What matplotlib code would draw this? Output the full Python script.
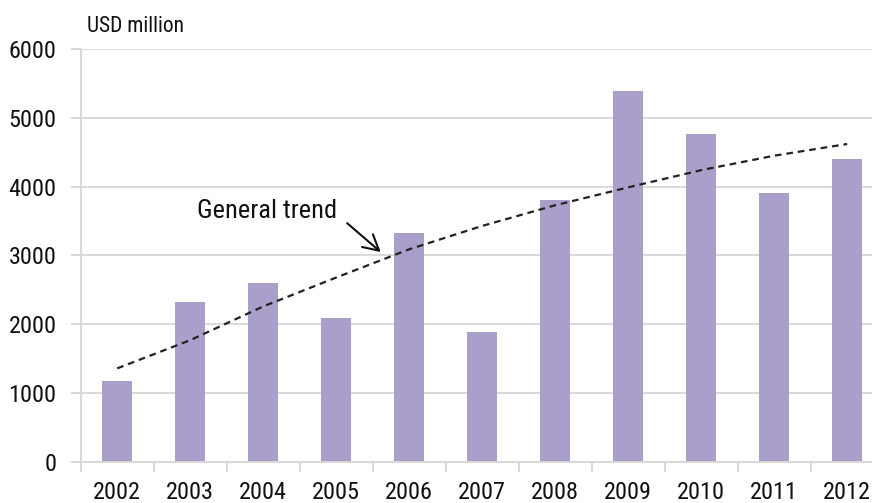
import matplotlib
matplotlib.use("Agg")
import matplotlib.pyplot as plt

years = ["2002", "2003", "2004", "2005", "2006", "2007",
         "2008", "2009", "2010", "2011", "2012"]
values = [1170, 2320, 2600, 2090, 3320, 1890, 3800, 5390, 4760, 3910, 4400]
trend = [1360, 1770, 2260, 2680, 3090, 3430, 3730, 3990, 4240, 4450, 4620]

plt.rcParams["font.family"] = ["Roboto Condensed", "DejaVu Sans"]

bar_color = "#a99fca"
grid_color = "#d9d9d9"
text_color = "#111111"

fig = plt.figure(figsize=(8.72, 5.03), dpi=100)
ax = fig.add_axes([80.7 / 872, 41 / 503, 803 / 872, 413 / 503])

x = list(range(len(years)))
ax.bar(x, values, width=0.41, color=bar_color, zorder=2)
ax.plot(x, trend, color="#222222", lw=1.6, ls=(0, (3, 2.2)), zorder=3)

# label and arrow pointing at the trend line
ax.text(2.05, 3640, "General trend", fontsize=19, ha="center", va="center",
        color=text_color)
ax.annotate("", xy=(3.61, 3050), xytext=(3.15, 3470),
            arrowprops=dict(arrowstyle="->,head_length=1.1,head_width=0.6",
                            color=text_color, lw=1.5,
                            shrinkA=0, shrinkB=0))

ax.set_xlim(-0.5, len(years) - 0.5)
ax.set_ylim(0, 6000)
ax.set_yticks(range(0, 6001, 1000))
ax.yaxis.grid(True, color=grid_color, lw=1.4, zorder=0)
ax.set_axisbelow(True)

ax.set_xticks(x)
ax.set_xticklabels(years)
ax.set_xticks([i - 0.5 for i in range(len(years) + 1)], minor=True)
ax.tick_params(axis="x", which="major", length=0, pad=14, labelsize=17.5,
               labelcolor=text_color)
ax.tick_params(axis="x", which="minor", length=7, width=1.4, color=grid_color,
               direction="out")
ax.tick_params(axis="y", length=7, width=1.4, color=grid_color, pad=10.5,
               labelsize=17.5, labelcolor=text_color)

for s in ["top", "right"]:
    ax.spines[s].set_visible(False)
for s in ["left", "bottom"]:
    ax.spines[s].set_color(grid_color)
    ax.spines[s].set_linewidth(1.4)

fig.text(87 / 872, 1 - 31.5 / 503, "USD million", fontsize=15.5,
         ha="left", va="baseline", color=text_color)

fig.savefig("out.png", dpi=100)
